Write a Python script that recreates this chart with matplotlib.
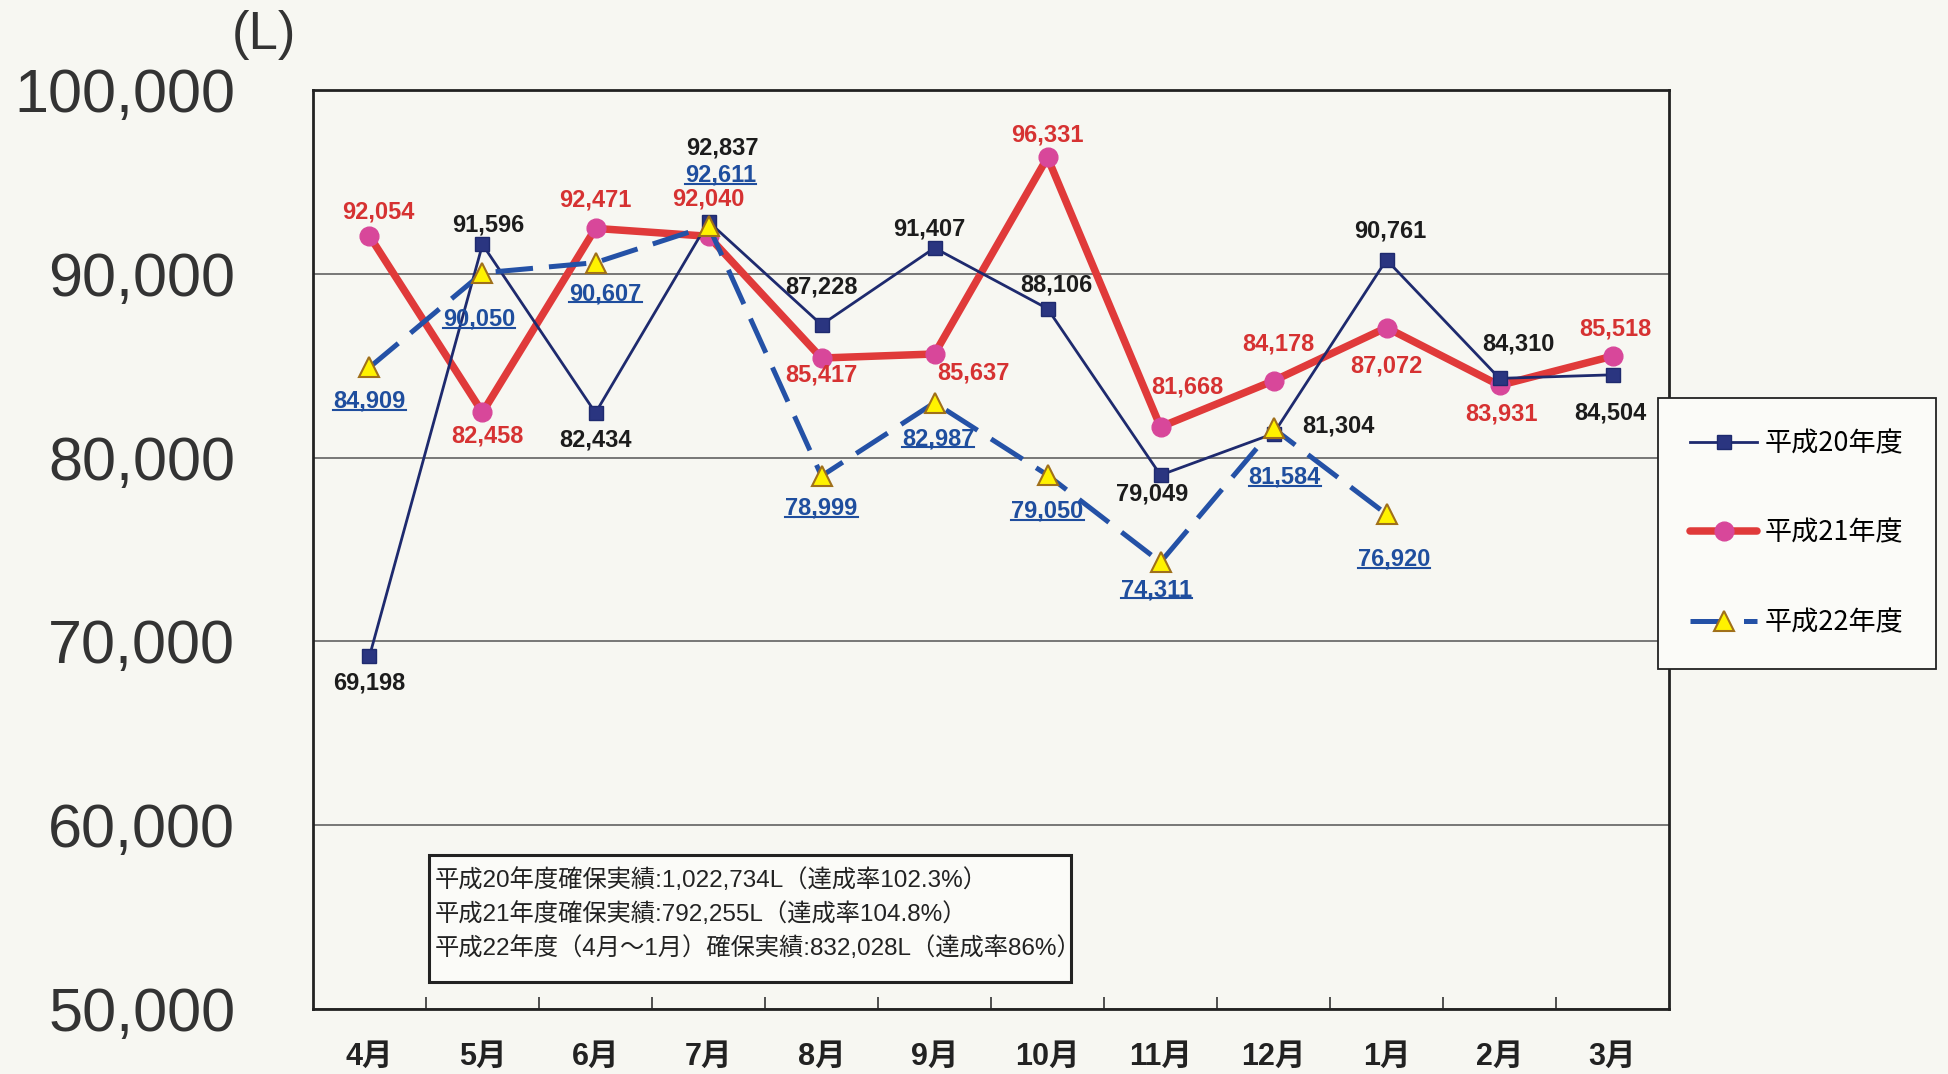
import matplotlib
matplotlib.use("Agg")
import matplotlib.pyplot as plt
from matplotlib import font_manager
from matplotlib.lines import Line2D
from matplotlib.patches import Rectangle

names = {f.name for f in font_manager.fontManager.ttflist}
NARROW = 'Liberation Sans Narrow' if 'Liberation Sans Narrow' in names else 'Liberation Sans'
JP = 'Noto Sans CJK JP'
plt.rcParams['font.family'] = [NARROW, JP, 'DejaVu Sans']

# ---------------- data ----------------
months = ['4月', '5月', '6月', '7月', '8月', '9月', '10月', '11月', '12月', '1月', '2月', '3月']
h20 = [69198, 91596, 82434, 92837, 87228, 91407, 88106, 79049, 81304, 90761, 84310, 84504]
h21 = [92054, 82458, 92471, 92040, 85417, 85637, 96331, 81668, 84178, 87072, 83931, 85518]
h22 = [84909, 90050, 90607, 92611, 78999, 82987, 79050, 74311, 81584, 76920]
series_names = ['平成20年度', '平成21年度', '平成22年度']
yticks = [50000, 60000, 70000, 80000, 90000, 100000]
summary_lines = [
    '平成20年度確保実績:1,022,734L（達成率102.3%）',
    '平成21年度確保実績:792,255L（達成率104.8%）',
    '平成22年度（4月～1月）確保実績:832,028L（達成率86%）',
]
unit_label = '(L)'

# label offsets (reduced-image px: dx right, dy down)
off20 = [(0, 22), (5, -16), (0, 22), (11, -59), (0, -30), (-4, -15), (7, -19), (-7, 15),
         (52, -6), (3, -23), (15, -28), (-2, 31)]
off21 = [(7, -19), (4, 19), (0, -23), (0, -30), (0, 14), (31, 15), (0, -18), (22, -32),
         (4, -30), (0, 31), (2, 23), (2, -22)]
off22 = [(0, 27), (-3, 37), (8, 25), (10, -41), (0, 26), (3, 29), (0, 29), (-3, 22),
         (9, 39), (6, 36)]

BG = '#F7F7F2'
C20 = '#1E2A6E'
C21 = '#E03A3A'
C21M = '#D8479A'
C22 = '#2451A6'
C22M = '#FFF200'

fig = plt.figure(figsize=(19.49, 10.74), dpi=100, facecolor=BG)
ax = fig.add_axes([313 / 1949, 1 - 1009 / 1074, (1669 - 313) / 1949, (1009 - 90) / 1074])
ax.set_facecolor(BG)

x20 = list(range(len(h20)))
x21 = list(range(len(h21)))
x22 = list(range(len(h22)))

l21, = ax.plot(x21, h21, color=C21, lw=5.4, marker='o', ms=13.5, mfc=C21M, mec=C21M,
               zorder=3, label=series_names[1], solid_capstyle='round')
l20, = ax.plot(x20, h20, color=C20, lw=2.0, marker='s', ms=10.5, mfc='#2A3580', mec=C20,
               zorder=4, label=series_names[0])
l22, = ax.plot(x22, h22, color=C22, lw=3.6, ls=(0, (7.5, 3.2)), marker='^', ms=14,
               mfc=C22M, mec='#A0701A', mew=1.5, zorder=5, label=series_names[2])

ax.set_xlim(-0.5, len(months) - 0.5)
ax.set_ylim(yticks[0], yticks[-1])
ax.set_yticks(yticks)
ax.set_yticklabels([f'{v:,}' for v in yticks], fontsize=44, color='#333333', family=NARROW)
ax.tick_params(axis='y', length=0, pad=56)
ax.set_xticks(x20)
ax.set_xticklabels(months, fontsize=22, fontweight='bold', color='#222222')
ax.tick_params(axis='x', length=0, pad=24)
ax.set_xticks([i + 0.5 for i in range(len(months) - 1)], minor=True)
ax.tick_params(axis='x', which='minor', direction='in', length=9, width=1.2, color='#333333')
ax.yaxis.grid(True, color='#555555', lw=1.1)
ax.set_axisbelow(True)
for s in ax.spines.values():
    s.set_linewidth(2.0)
    s.set_color('#222222')

K = 0.895
def put(xs, vals, offs, color):
    out = []
    for x, v, (dx, dy) in zip(xs, vals, offs):
        t = ax.annotate(f'{v:,}', xy=(x, v), xytext=(dx * K, -dy * K), textcoords='offset points',
                        ha='center', va='center', fontsize=17, fontweight='bold', color=color,
                        family=NARROW, zorder=6)
        out.append(t)
    return out

put(x20, h20, off20, '#1c1c1c')
put(x21, h21, off21, '#D63232')
t22 = put(x22, h22, off22, '#1F4E9E')

# unit label
fig.text(264 / 1949, 1 - 35 / 1074, unit_label, fontsize=38, color='#333333',
         ha='center', va='center', family='Liberation Sans')

# legend
leg = fig.legend(handles=[l20, l21, l22], loc='upper left',
                 bbox_to_anchor=(1658 / 1949, 1 - 398 / 1074),
                 prop={'family': [JP], 'size': 19.5}, frameon=True, fancybox=False,
                 edgecolor='#222222', facecolor='#FBFBF8', framealpha=1,
                 labelspacing=2.3, borderpad=1.2, handlelength=2.45, handletextpad=0.3,
                 borderaxespad=0)
leg.get_frame().set_linewidth(1.3)

# summary box
fig.patches.append(Rectangle((429 / 1949, 1 - 982 / 1074), (1071 - 429) / 1949, (982 - 855) / 1074,
                             transform=fig.transFigure, facecolor='#FBFBF8', edgecolor='#222222',
                             lw=2.2, zorder=7))
for k, line in enumerate(summary_lines):
    fig.text(435 / 1949, 1 - (880 + 34 * k) / 1074, line, fontsize=17.5, color='#222222',
             ha='left', va='center', family=[NARROW, JP], zorder=8)

# underline H22 labels
fig.canvas.draw()
r = fig.canvas.get_renderer()
inv = fig.transFigure.inverted()
for t in t22:
    bb = t.get_window_extent(r)
    y = bb.y0 + 0.12 * bb.height
    (x0, yy), (x1, _) = inv.transform([(bb.x0, y), (bb.x1, y)])
    fig.lines.append(Line2D([x0, x1], [yy, yy], transform=fig.transFigure, color='#1F4E9E', lw=1.5))

fig.savefig('out.png', dpi=100, facecolor=BG)
